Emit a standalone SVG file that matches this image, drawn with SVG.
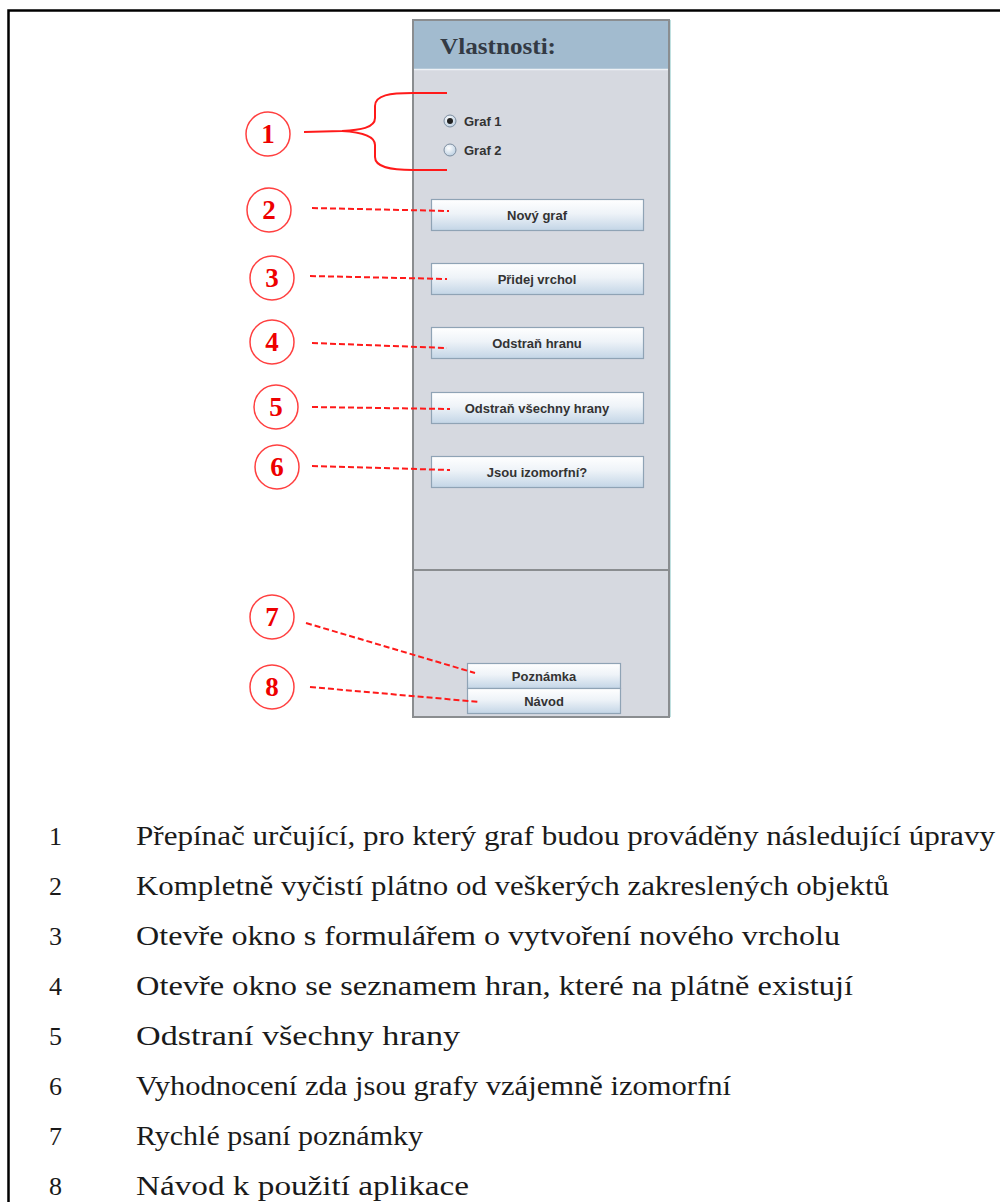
<svg xmlns="http://www.w3.org/2000/svg" width="1000" height="1202" viewBox="0 0 1000 1202">
  <defs>
    <linearGradient id="btnGrad" x1="0" y1="0" x2="0" y2="1">
      <stop offset="0" stop-color="#ffffff"/>
      <stop offset="0.45" stop-color="#eef3f8"/>
      <stop offset="1" stop-color="#c3d5e6"/>
    </linearGradient>
    <radialGradient id="radioGrad" cx="0.4" cy="0.35" r="0.7">
      <stop offset="0" stop-color="#ffffff"/>
      <stop offset="1" stop-color="#b9cde0"/>
    </radialGradient>
    <style>
      .btn { fill: url(#btnGrad); stroke: #8fa3b5; stroke-width: 1.2; }
      .btnlabel { font-family: "Liberation Sans", Arial, sans-serif; font-weight: bold; font-size: 13px; fill: #333333; text-anchor: middle; }
      .callout { fill: #ffffff; stroke: #ff4040; stroke-width: 1.5; }
      .callnum { font-family: "Liberation Serif", "Times New Roman", serif; font-weight: bold; font-size: 27px; fill: #ee0000; text-anchor: middle; }
      .dash { fill: none; stroke: #ff1a1a; stroke-width: 2; stroke-dasharray: 6 3; }
      .brace { fill: none; stroke: #ff1a1a; stroke-width: 2; }
      .num { font-family: "Liberation Serif", "Times New Roman", serif; font-size: 26px; fill: #1a1a1a; }
      .desc { font-family: "Liberation Serif", "Times New Roman", serif; font-size: 27px; fill: #1a1a1a; }
      .radiolabel { font-family: "Liberation Sans", Arial, sans-serif; font-weight: bold; font-size: 13px; fill: #333333; }
    </style>
  </defs>

  <rect x="0" y="0" width="1000" height="1202" fill="#ffffff"/>
  <!-- page frame -->
  <path d="M8.5 1202 V10.5 H1000" fill="none" stroke="#000000" stroke-width="2.5"/>

  <!-- properties panel -->
  <g id="panel">
    <rect x="413" y="20" width="256" height="697" fill="#d6d9e0" stroke="#8a8d90" stroke-width="2"/>
    <rect x="414" y="21" width="254" height="48" fill="#a2bbcf"/>
    <line x1="414" y1="69.5" x2="668" y2="69.5" stroke="#eef1f5" stroke-width="1.5"/>
    <line x1="670.5" y1="20" x2="670.5" y2="717" stroke="#bfe0e0" stroke-width="1"/>
    <text x="440" y="54" font-family="'Liberation Serif', 'Times New Roman', serif" font-weight="bold" font-size="24" fill="#333a44" textLength="116" lengthAdjust="spacingAndGlyphs">Vlastnosti:</text>
    <line x1="414" y1="570" x2="668" y2="570" stroke="#8a8d90" stroke-width="2"/>
  </g>

  <!-- radio group -->
  <g id="radio-graf1">
    <circle cx="450" cy="121" r="6" fill="url(#radioGrad)" stroke="#7d8ea0" stroke-width="1"/>
    <circle cx="450" cy="121" r="3" fill="#222222"/>
    <text class="radiolabel" x="464" y="126">Graf 1</text>
  </g>
  <g id="radio-graf2">
    <circle cx="450" cy="150" r="6" fill="url(#radioGrad)" stroke="#7d8ea0" stroke-width="1"/>
    <text class="radiolabel" x="464" y="155">Graf 2</text>
  </g>

  <!-- buttons -->
  <g id="btn-novy-graf">
    <rect class="btn" x="431.5" y="199.5" width="212" height="31"/>
    <text class="btnlabel" x="537" y="219.5">Nový graf</text>
  </g>
  <g id="btn-pridej-vrchol">
    <rect class="btn" x="431.5" y="263.5" width="212" height="31"/>
    <text class="btnlabel" x="537" y="283.5">Přidej vrchol</text>
  </g>
  <g id="btn-odstran-hranu">
    <rect class="btn" x="431.5" y="327.5" width="212" height="31"/>
    <text class="btnlabel" x="537" y="347.5">Odstraň hranu</text>
  </g>
  <g id="btn-odstran-vsechny">
    <rect class="btn" x="431.5" y="392.5" width="212" height="31"/>
    <text class="btnlabel" x="537" y="412.5">Odstraň všechny hrany</text>
  </g>
  <g id="btn-izomorfni">
    <rect class="btn" x="431.5" y="456.5" width="212" height="31"/>
    <text class="btnlabel" x="537" y="476.5">Jsou izomorfní?</text>
  </g>
  <g id="btn-poznamka">
    <rect class="btn" x="467.5" y="663.5" width="153" height="25"/>
    <text class="btnlabel" x="544" y="681">Poznámka</text>
  </g>
  <g id="btn-navod">
    <rect class="btn" x="467.5" y="688.5" width="153" height="25"/>
    <text class="btnlabel" x="544" y="706">Návod</text>
  </g>

  <!-- connectors -->
  <g id="connectors">
    <path class="brace" d="M304 132 L342 131 C360 130 375 128 375 118 V106 C375 95 390 93 413 93 L447 93"/>
    <path class="brace" d="M342 131 C360 132 375 135 375 145 V157 C375 167 390 170 413 170 L447 170"/>
    <line class="dash" x1="312" y1="208" x2="449" y2="211"/>
    <line class="dash" x1="310" y1="276" x2="447" y2="279"/>
    <line class="dash" x1="312" y1="343" x2="447" y2="348"/>
    <line class="dash" x1="312" y1="407" x2="450" y2="409"/>
    <line class="dash" x1="312" y1="466" x2="450" y2="470"/>
    <line class="dash" x1="306" y1="623" x2="475" y2="673"/>
    <line class="dash" x1="310" y1="687" x2="480" y2="702"/>
  </g>

  <!-- numbered callouts -->
  <g id="callout-1"><circle class="callout" cx="268" cy="134" r="22"/><text class="callnum" x="268" y="143">1</text></g>
  <g id="callout-2"><circle class="callout" cx="269" cy="210" r="22"/><text class="callnum" x="269" y="219">2</text></g>
  <g id="callout-3"><circle class="callout" cx="272" cy="278" r="22"/><text class="callnum" x="272" y="287">3</text></g>
  <g id="callout-4"><circle class="callout" cx="272" cy="342" r="22"/><text class="callnum" x="272" y="351">4</text></g>
  <g id="callout-5"><circle class="callout" cx="276" cy="407" r="22"/><text class="callnum" x="276" y="416">5</text></g>
  <g id="callout-6"><circle class="callout" cx="277" cy="467" r="22"/><text class="callnum" x="277" y="476">6</text></g>
  <g id="callout-7"><circle class="callout" cx="272" cy="617" r="22"/><text class="callnum" x="272" y="626">7</text></g>
  <g id="callout-8"><circle class="callout" cx="272" cy="687" r="22"/><text class="callnum" x="272" y="696">8</text></g>

  <!-- legend -->
  <g id="legend">
    <text class="num" x="49" y="845">1</text>
    <text class="desc" x="136" y="845" textLength="859" lengthAdjust="spacingAndGlyphs">Přepínač určující, pro který graf budou prováděny následující úpravy</text>
    <text class="num" x="49" y="895">2</text>
    <text class="desc" x="136" y="895" textLength="753" lengthAdjust="spacingAndGlyphs">Kompletně vyčistí plátno od veškerých zakreslených objektů</text>
    <text class="num" x="49" y="945">3</text>
    <text class="desc" x="136" y="945" textLength="704" lengthAdjust="spacingAndGlyphs">Otevře okno s formulářem o vytvoření nového vrcholu</text>
    <text class="num" x="49" y="995">4</text>
    <text class="desc" x="136" y="995" textLength="717" lengthAdjust="spacingAndGlyphs">Otevře okno se seznamem hran, které na plátně existují</text>
    <text class="num" x="49" y="1045">5</text>
    <text class="desc" x="136" y="1045" textLength="324" lengthAdjust="spacingAndGlyphs">Odstraní všechny hrany</text>
    <text class="num" x="49" y="1095">6</text>
    <text class="desc" x="136" y="1095" textLength="595" lengthAdjust="spacingAndGlyphs">Vyhodnocení zda jsou grafy vzájemně izomorfní</text>
    <text class="num" x="49" y="1145">7</text>
    <text class="desc" x="136" y="1145" textLength="287" lengthAdjust="spacingAndGlyphs">Rychlé psaní poznámky</text>
    <text class="num" x="49" y="1195">8</text>
    <text class="desc" x="136" y="1195" textLength="333" lengthAdjust="spacingAndGlyphs">Návod k použití aplikace</text>
  </g>
</svg>
